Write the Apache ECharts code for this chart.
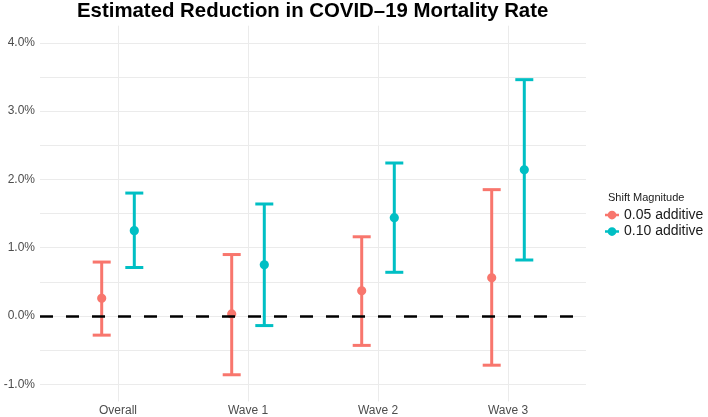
<!DOCTYPE html>
<html>
<head>
<meta charset="utf-8">
<script src="https://cdn.jsdelivr.net/npm/echarts@6/dist/echarts.min.js"></script>
<style>html,body{margin:0;padding:0;background:#fff}#c{width:708px;height:417px}</style>
</head>
<body>
<div id="c"></div>
<script>
// ---- data (percent) ----
var categories = ['Overall', 'Wave 1', 'Wave 2', 'Wave 3'];
var seriesNames = ['0.05 additive', '0.10 additive'];
var est005 = [0.26, 0.03, 0.37, 0.56];
var low005 = [-0.28, -0.86, -0.43, -0.72];
var high005 = [0.79, 0.90, 1.16, 1.85];
var est010 = [1.25, 0.75, 1.44, 2.14];
var low010 = [0.71, -0.14, 0.64, 0.82];
var high010 = [1.80, 1.64, 2.24, 3.46];
var yTicks = [-1, 0, 1, 2, 3, 4];
var yGrid = [-1, -0.5, 0, 0.5, 1, 1.5, 2, 2.5, 3, 3.5, 4];

var colors = ['#F8766D', '#00BFC4'];
var dodge = 16.3;
var capHalf = 9;

function makeData(est, lo, hi) {
  return categories.map(function (c, i) { return [i, lo[i], hi[i], est[i]]; });
}

function makeRender(offset, color) {
  return function (params, api) {
    var x = api.value(0);
    var pLo = api.coord([x, api.value(1)]);
    var pHi = api.coord([x, api.value(2)]);
    var pMid = api.coord([x, api.value(3)]);
    var cx = pMid[0] + offset;
    var st = { stroke: color, lineWidth: 3, fill: null };
    return {
      type: 'group',
      children: [
        { type: 'line', shape: { x1: cx, y1: pLo[1], x2: cx, y2: pHi[1] }, style: st },
        { type: 'line', shape: { x1: cx - capHalf, y1: pHi[1], x2: cx + capHalf, y2: pHi[1] }, style: st },
        { type: 'line', shape: { x1: cx - capHalf, y1: pLo[1], x2: cx + capHalf, y2: pLo[1] }, style: st },
        { type: 'circle', shape: { cx: cx, cy: pMid[1], r: 4.6 }, style: { fill: color } }
      ]
    };
  };
}

var legendIcon = 'path://M0,3.6H16V6.4H0Z M3,5a5,5 0 1,1 10,0a5,5 0 1,1 -10,0Z';

var chart = echarts.init(document.getElementById('c'), null, { renderer: 'canvas' });
chart.setOption({
  animation: false,
  backgroundColor: '#ffffff',
  textStyle: { fontFamily: 'Liberation Sans, Arial, sans-serif' },
  title: [
    {
      text: 'Estimated Reduction in COVID\u201319 Mortality Rate',
      left: 77, top: 1, padding: 0,
      textStyle: { fontSize: 20.4, fontWeight: 'bold', color: '#000', fontFamily: 'Liberation Sans, Arial, sans-serif' }
    },
    {
      text: 'Shift Magnitude',
      left: 603, top: 187,
      textStyle: { fontSize: 11, fontWeight: 'normal', color: '#1a1a1a', fontFamily: 'Liberation Sans, Arial, sans-serif' }
    }
  ],
  legend: {
    orient: 'vertical',
    left: 605, top: 208,
    itemWidth: 14, itemHeight: 9, itemGap: 2.5,
    padding: 0,
    textStyle: { fontSize: 14, color: '#1a1a1a', fontFamily: 'Liberation Sans, Arial, sans-serif' },
    data: [
      { name: seriesNames[0], icon: legendIcon, itemStyle: { color: colors[0] } },
      { name: seriesNames[1], icon: legendIcon, itemStyle: { color: colors[1] } }
    ]
  },
  grid: { left: 40, right: 122, top: 25.7, bottom: 15.6, containLabel: false, outerBoundsMode: 'none' },
  xAxis: {
    type: 'value', min: -0.6, max: 3.6,
    axisLine: { show: false },
    axisTick: { show: false, customValues: [0, 1, 2, 3] },
    axisLabel: {
      customValues: [0, 1, 2, 3], margin: 3, fontSize: 12, color: '#4D4D4D',
      formatter: function (v) { return categories[Math.round(v)] || ''; }
    },
    splitLine: { show: true, lineStyle: { color: '#EBEBEB', width: 1 } }
  },
  yAxis: {
    type: 'value', min: -1.25, max: 4.25,
    axisLine: { show: false },
    axisTick: { show: false, customValues: yGrid },
    axisLabel: {
      customValues: yTicks, margin: 5, fontSize: 12, color: '#4D4D4D',
      formatter: function (v) { return v.toFixed(1) + '%'; }
    },
    splitLine: { show: true, lineStyle: { color: '#EBEBEB', width: 1 } }
  },
  series: [
    {
      name: seriesNames[0], type: 'custom', color: colors[0],
      itemStyle: { color: colors[0] },
      renderItem: makeRender(-dodge, colors[0]),
      data: makeData(est005, low005, high005)
    },
    {
      name: seriesNames[1], type: 'custom', color: colors[1],
      itemStyle: { color: colors[1] },
      renderItem: makeRender(dodge, colors[1]),
      data: makeData(est010, low010, high010),
      markLine: {
        silent: true, symbol: 'none', label: { show: false }, z: 10,
        lineStyle: { color: '#000', width: 2.6, type: [13, 13] },
        data: [{ yAxis: 0 }]
      }
    }
  ]
});
</script>
</body>
</html>
